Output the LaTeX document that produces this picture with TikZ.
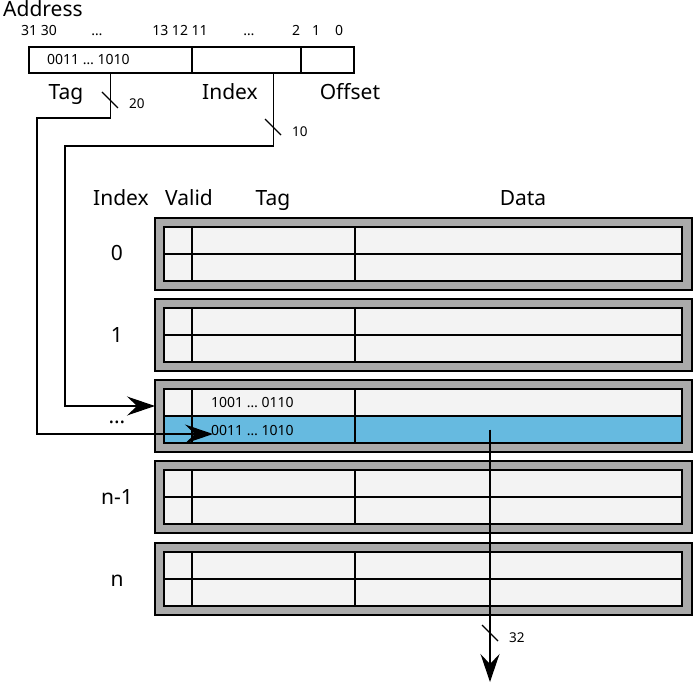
\documentclass[tikz,border=0pt]{standalone}
\usepackage{fontspec}
\setmainfont{Noto Sans}
\usetikzlibrary{arrows.meta,positioning}
\definecolor{setgray}{RGB}{170,170,170}
\definecolor{cellgray}{RGB}{243,243,243}
\definecolor{hitblue}{RGB}{102,186,224}

\begin{document}
\begin{tikzpicture}[
    x=1pt, y=-1pt,
    big/.style={font=\fontsize{21}{25}\selectfont, inner sep=0pt},
    small/.style={font=\fontsize{14}{17}\selectfont, inner sep=0pt},
    tiny/.style={font=\fontsize{13.5}{16}\selectfont, inner sep=0pt},
    field/.style={draw, line width=1.3pt, minimum height=26pt, inner sep=0pt, outer sep=0pt, anchor=north west},
    setbox/.style={draw, line width=1.5pt, fill=setgray, minimum width=537pt, minimum height=72pt, inner sep=0pt, outer sep=0pt, anchor=north west},
    cell/.style={draw, line width=1.3pt, minimum height=27pt, inner sep=0pt, outer sep=0pt, anchor=north west},
    wire/.style={line width=1.3pt},
    arrow/.style={wire, -{Stealth[length=28pt, width=19pt, inset=10pt]}}
]
    \useasboundingbox (0,0) rectangle (693,684);

    % address word
    \node[big, anchor=base west] (addr) at (3,17) {Address};
    \node[small, anchor=base] (b3130) at (39,36) {31 30};
    \node[small, anchor=base] (bdots1) at (97,36) {…};
    \node[small, anchor=base] (b131211) at (180,36) {13 12 11};
    \node[small, anchor=base] (bdots2) at (249,36) {…};
    \node[small, anchor=base] (b2) at (296,36) {2};
    \node[small, anchor=base] (b1) at (316,36) {1};
    \node[small, anchor=base] (b0) at (339,36) {0};

    \node[field, minimum width=163pt] (atag) at (29,47) {};
    \node[field, minimum width=109pt, right=0pt of atag] (aidx) {};
    \node[field, minimum width=53pt, right=0pt of aidx] (aoff) {};
    \node[small, anchor=base west] (tagval) at (47,65) {0011 … 1010};

    \node[big, anchor=base] (ltag) at (66,100) {Tag};
    \node[big, anchor=base] (lidx) at (230,100) {Index};
    \node[big, anchor=base] (loff) at (350,100) {Offset};

    % cache table
    \node[big, anchor=base] (hidx) at (121,206) {Index};
    \node[big, anchor=base] (hvalid) at (189,206) {Valid};
    \node[big, anchor=base] (htag) at (273,206) {Tag};
    \node[big, anchor=base] (hdata) at (523,206) {Data};

    \foreach \y/\lab [count=\k from 0] in {218/0, 299/1, 380/…, 461/n-1, 543/n} {
        \ifnum\k=2 \def\rowfill{hitblue}\else\def\rowfill{cellgray}\fi
        \node[setbox] (set\k) at (155,\y) {};
        \node[cell, fill=cellgray, minimum width=28pt] (va\k) at (164,\y+9) {};
        \node[cell, fill=cellgray, minimum width=163pt, right=0pt of va\k] (ta\k) {};
        \node[cell, fill=cellgray, minimum width=327pt, right=0pt of ta\k] (da\k) {};
        \node[cell, fill=\rowfill, minimum width=28pt, below=0pt of va\k] (vb\k) {};
        \node[cell, fill=\rowfill, minimum width=163pt, below=0pt of ta\k] (tb\k) {};
        \node[cell, fill=\rowfill, minimum width=327pt, below=0pt of da\k] (db\k) {};
        \node[big, anchor=base] (row\k) at (117,\y+43) {\lab};
    }

    \node[small, anchor=base west] (tagold) at (211,407) {1001 … 0110};
    \node[small, anchor=base west] (tagnew) at (211,435) {0011 … 1010};

    % wires
    \coordinate (idxtap) at ([xshift=27pt]aidx.south);
    \coordinate (tagin) at ([xshift=2pt, yshift=-4pt]tagnew.west);
    \coordinate (datatap) at ([xshift=-28.5pt]db2.center);
    \coordinate (dataout) at (490,682);

    \draw[arrow] (atag.south) |- (37,118) |- (tagin);
    \draw[arrow] (idxtap) |- (65,146) |- ([yshift=10pt]set2.west);
    \draw[arrow] (datatap) -- (dataout);

    \draw[wire] (102,92) -- (118,108);
    \node[tiny, anchor=base west] (w20) at (129,109) {20};
    \draw[wire] (265,119) -- (281,135);
    \node[tiny, anchor=base west] (w10) at (292,137) {10};
    \draw[wire] (482,625) -- (498,641);
    \node[tiny, anchor=base west] (w32) at (509,642) {32};
\end{tikzpicture}
\end{document}
